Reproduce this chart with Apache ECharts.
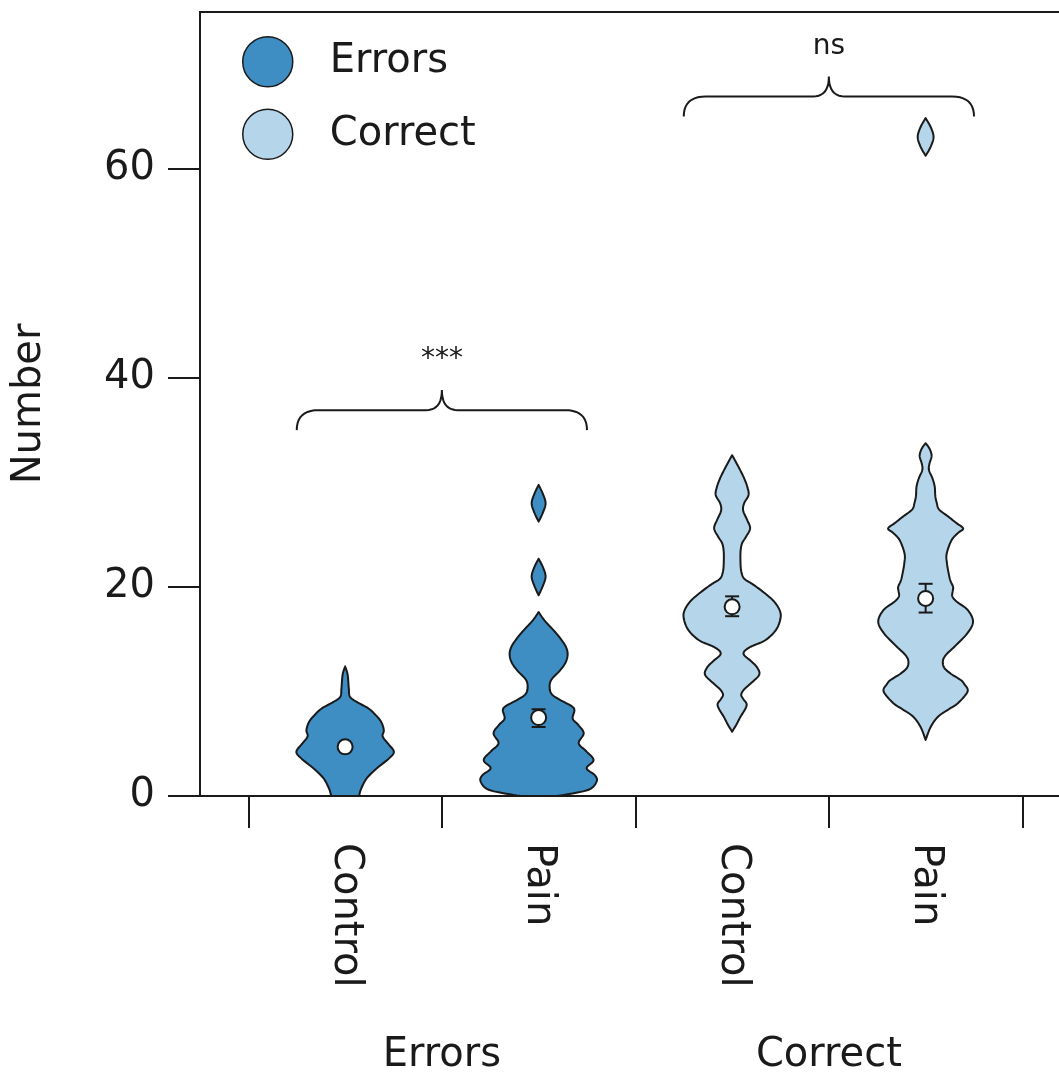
<!DOCTYPE html>
<html><head><meta charset="utf-8">
<script src="https://cdn.jsdelivr.net/npm/echarts@6/dist/echarts.min.js"></script>
<style>html,body{margin:0;padding:0;background:#fff}#c{width:1059px;height:1081px}</style>
</head><body><div id="c"></div>
<script>
// ---------- data ----------
const categories = ['Control', 'Pain', 'Control', 'Pain'];
const categoryPositions = [1, 2, 3, 4];
const groupNames = ['Errors', 'Correct'];
const groupPositions = [1.5, 3.5];
const yTicks = [0, 20, 40, 60];
const xTickBoundaries = [0.5, 1.5, 2.5, 3.5, 4.5];

// violin profiles: [value, half-width in x-axis units]
const profileErrorsControl = [[0,0.072],[0.7,0.083],[1.7,0.112],[2.65,0.164],[3.6,0.227],[4.24,0.252],[5.0,0.222],[5.7,0.194],[6.3,0.2],[7.1,0.186],[7.8,0.155],[8.4,0.119],[9.0,0.06],[9.5,0.025],[10.3,0.019],[11.6,0.013],[12.4,0]];
const profileErrorsPain = [[0,0.088],[0.1,0.13],[0.6,0.258],[1.4,0.3],[2.0,0.29],[2.66,0.248],[3.44,0.284],[4.3,0.245],[5.05,0.207],[6.0,0.233],[6.8,0.205],[7.4,0.176],[8.2,0.185],[8.6,0.17],[9.2,0.11],[9.7,0.07],[10.3,0.057],[11.1,0.065],[12.0,0.11],[12.8,0.14],[13.6,0.15],[14.3,0.14],[15.0,0.115],[15.8,0.08],[16.8,0.03],[17.6,0],[19.2,0],[20.1,0.022],[21.0,0.036],[21.9,0.022],[22.7,0],[26.25,0],[27.1,0.022],[28.0,0.036],[28.9,0.022],[29.76,0]];
const profileCorrectControl = [[6.15,0],[6.8,0.021],[7.6,0.044],[8.3,0.067],[8.8,0.075],[9.3,0.057],[9.7,0.047],[10.2,0.062],[10.8,0.098],[11.6,0.14],[12.3,0.129],[12.9,0.098],[13.6,0.059],[14.2,0.088],[14.9,0.171],[15.9,0.227],[17.0,0.25],[17.8,0.245],[18.7,0.212],[19.6,0.155],[20.3,0.103],[20.8,0.062],[21.5,0.047],[22.5,0.043],[23.5,0.044],[24.2,0.052],[24.8,0.072],[25.6,0.093],[26.4,0.078],[27.3,0.057],[28.0,0.062],[28.8,0.085],[29.6,0.078],[30.4,0.062],[31.2,0.041],[32.0,0.018],[32.6,0]];
const profileCorrectPain = [[5.36,0],[6.6,0.026],[7.6,0.065],[8.3,0.12],[8.9,0.168],[10.0,0.217],[10.7,0.2],[11.1,0.181],[11.7,0.13],[12.3,0.095],[13.0,0.09],[13.6,0.11],[14.3,0.15],[15.6,0.217],[16.7,0.245],[17.8,0.217],[18.6,0.16],[19.1,0.138],[19.6,0.14],[20.0,0.142],[20.6,0.128],[21.3,0.119],[22.3,0.11],[23.2,0.109],[24.5,0.135],[25.2,0.17],[25.6,0.194],[26.1,0.16],[26.7,0.119],[27.4,0.07],[28.0,0.058],[28.7,0.05],[29.6,0.047],[30.4,0.035],[31.2,0.017],[31.8,0.02],[32.4,0.03],[32.8,0.029],[33.3,0.018],[33.75,0],[61.25,0],[62.1,0.026],[63.05,0.041],[64.0,0.026],[64.85,0]];
const profiles = [profileErrorsControl, profileErrorsPain, profileCorrectControl, profileCorrectPain];

const means = [4.7, 7.5, 18.1, 18.9];
const ciLow = [4.4, 6.6, 17.2, 17.55];
const ciHigh = [5.0, 8.3, 19.1, 20.3];

const bracketFrom = [0.75, 2.75];
const bracketTo = [2.25, 4.25];
const bracketBase = [35, 65];
const bracketLabels = ['***', 'ns'];

// ---------- style ----------
const DARK = '#3e8ec4';
const LIGHT = '#b4d5ea';
const INK = '#1a1a1a';
const FONT = 'DejaVu Sans';

function splitSegments(prof) {
  const segs = []; let cur = [];
  for (const p of prof) {
    if (p[1] === 0) {
      if (cur.some(q => q[1] > 0)) { cur.push(p); segs.push(cur); }
      cur = [p];
    } else cur.push(p);
  }
  if (cur.some(q => q[1] > 0)) segs.push(cur);
  return segs;
}
function crSample(pts, n) {
  if (pts.length < 3) return pts.slice();
  const out = [pts[0]];
  for (let i = 0; i < pts.length - 1; i++) {
    const p0 = pts[Math.max(i - 1, 0)], p1 = pts[i], p2 = pts[i + 1], p3 = pts[Math.min(i + 2, pts.length - 1)];
    for (let k = 1; k <= n; k++) {
      const t = k / n, t2 = t * t, t3 = t2 * t;
      const f = (a, b, c, d) => 0.5 * ((2 * b) + (-a + c) * t + (2 * a - 5 * b + 4 * c - d) * t2 + (-a + 3 * b - 3 * c + d) * t3);
      out.push([f(p0[0], p1[0], p2[0], p3[0]), f(p0[1], p1[1], p2[1], p3[1])]);
    }
  }
  return out;
}
function violinRender(color) {
  return function (params, api) {
    const x = api.value(0), idx = api.value(2);
    const cx = api.coord([x, 0])[0];
    const segs = splitSegments(profiles[idx]);
    const children = segs.map(seg => {
      const right = crSample(seg.map(p => api.coord([x + p[1], p[0]])), 8).map(p => [Math.max(p[0], cx), p[1]]);
      const left = crSample(seg.map(p => api.coord([x - p[1], p[0]])), 8).map(p => [Math.min(p[0], cx), p[1]]).reverse();
      return { type: 'polygon', shape: { points: right.concat(left) },
        style: { fill: color, stroke: INK, lineWidth: 2, lineJoin: 'round' } };
    });
    return { type: 'group', children };
  };
}
function quad(p0, c, p1, n) {
  const out = [];
  for (let k = 0; k <= n; k++) {
    const t = k / n, u = 1 - t;
    out.push([u * u * p0[0] + 2 * u * t * c[0] + t * t * p1[0], u * u * p0[1] + 2 * u * t * c[1] + t * t * p1[1]]);
  }
  return out;
}

const chart = echarts.init(document.getElementById('c'), null, { renderer: 'canvas' });
chart.setOption({
  animation: false,
  backgroundColor: '#fff',
  textStyle: { fontFamily: FONT },
  grid: { left: 200, top: 12, bottom: 285, right: -11.75, containLabel: false, outerBoundsMode: 'none',
    show: true, borderColor: INK, borderWidth: 2, backgroundColor: 'transparent' },
  legend: {
    data: ['Errors', 'Correct'], orient: 'vertical', left: 237, top: 31,
    itemWidth: 50, itemHeight: 50, itemGap: 21, icon: 'circle',
    itemStyle: { borderColor: INK, borderWidth: 1.5 },
    textStyle: { fontSize: 40, color: INK, fontFamily: FONT, padding: [0, 0, 0, 32] }
  },
  xAxis: [{
    type: 'value', min: 0.25, max: 4.75, position: 'bottom',
    axisLine: { show: true, lineStyle: { color: INK, width: 2 } },
    axisTick: { show: true, length: 32, inside: false, customValues: xTickBoundaries, lineStyle: { color: INK, width: 2 } },
    axisLabel: { customValues: categoryPositions, rotate: -90, margin: 47, fontSize: 40, color: INK, fontFamily: FONT,
      formatter: v => categories[categoryPositions.indexOf(v)] || '' },
    splitLine: { show: false }
  }, {
    type: 'value', min: 0.25, max: 4.75, position: 'bottom', gridIndex: 0,
    axisLine: { show: false }, axisTick: { show: false }, splitLine: { show: false },
    axisLabel: { customValues: groupPositions, margin: 240, fontSize: 40, color: INK, fontFamily: FONT,
      formatter: v => groupNames[groupPositions.indexOf(v)] || '' }
  }],
  yAxis: {
    type: 'value', min: 0, max: 75,
    name: 'Number', nameLocation: 'middle', nameGap: 150, nameRotate: 90,
    nameTextStyle: { fontSize: 40, color: INK, fontFamily: FONT },
    axisLine: { show: true, lineStyle: { color: INK, width: 2 } },
    axisTick: { show: true, length: 32, customValues: yTicks, lineStyle: { color: INK, width: 2 } },
    axisLabel: { customValues: yTicks, margin: 45, fontSize: 40, color: INK, fontFamily: FONT },
    splitLine: { show: false }
  },
  series: [
    { name: 'Errors', type: 'custom', itemStyle: { color: DARK },
      data: [0, 1].map(i => [categoryPositions[i], 0, i]), encode: { x: 0, y: 1 },
      renderItem: violinRender(DARK), z: 2 },
    { name: 'Correct', type: 'custom', itemStyle: { color: LIGHT },
      data: [2, 3].map(i => [categoryPositions[i], 0, i]), encode: { x: 0, y: 1 },
      renderItem: violinRender(LIGHT), z: 2 },
    { name: 'ci', type: 'custom', z: 3,
      data: categoryPositions.map((p, i) => [p, ciLow[i], ciHigh[i]]), encode: { x: 0, y: [1, 2] },
      renderItem: function (params, api) {
        const lo = api.coord([api.value(0), api.value(1)]);
        const hi = api.coord([api.value(0), api.value(2)]);
        const w = 7, st = { stroke: INK, lineWidth: 2 };
        return { type: 'group', children: [
          { type: 'line', shape: { x1: lo[0], y1: lo[1], x2: hi[0], y2: hi[1] }, style: st },
          { type: 'line', shape: { x1: lo[0] - w, y1: lo[1], x2: lo[0] + w, y2: lo[1] }, style: st },
          { type: 'line', shape: { x1: hi[0] - w, y1: hi[1], x2: hi[0] + w, y2: hi[1] }, style: st }
        ] };
      } },
    { name: 'mean', type: 'scatter', z: 4, symbol: 'circle', symbolSize: 15,
      itemStyle: { color: '#fff', borderColor: INK, borderWidth: 2, opacity: 1 },
      data: categoryPositions.map((p, i) => [p, means[i]]) },
    { name: 'brackets', type: 'custom', z: 5,
      data: bracketFrom.map((f, i) => [f, bracketBase[i], bracketTo[i], i]), encode: { x: [0, 2], y: 1 },
      renderItem: function (params, api) {
        const a = api.coord([api.value(0), api.value(1)]);
        const b = api.coord([api.value(2), api.value(1)]);
        const i = api.value(3);
        const yE = a[1], yH = yE - 20, yP = yE - 40, cx = (a[0] + b[0]) / 2;
        const r = 22, rc = 16;
        let pts = [];
        pts = pts.concat(quad([a[0], yE], [a[0], yH], [a[0] + r, yH], 10));
        pts = pts.concat(quad([cx - rc, yH], [cx, yH], [cx, yP], 10));
        pts = pts.concat(quad([cx, yP], [cx, yH], [cx + rc, yH], 10));
        pts = pts.concat(quad([b[0] - r, yH], [b[0], yH], [b[0], yE], 10));
        return { type: 'group', children: [
          { type: 'polyline', shape: { points: pts }, style: { stroke: INK, lineWidth: 2, fill: null } },
          { type: 'text', x: cx, y: yP - 30, style: { text: bracketLabels[i], fontSize: 28, fontFamily: FONT,
            fill: INK, align: 'center', verticalAlign: 'middle' } }
        ] };
      } }
  ]
});
</script>
</body></html>
